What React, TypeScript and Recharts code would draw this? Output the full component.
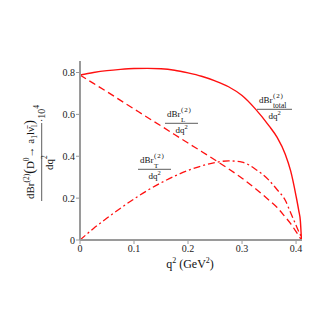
import { LineChart, Line, XAxis, YAxis } from 'recharts'

// q^2 grid (GeV^2) and the three differential branching ratios (x 10^4)
const q2 = [0, 0.025, 0.05, 0.075, 0.1, 0.125, 0.15, 0.175, 0.2, 0.225, 0.25, 0.275, 0.3, 0.325, 0.35, 0.365, 0.38, 0.39, 0.4, 0.405, 0.408, 0.41]
const brTotal = [0.788, 0.8, 0.809, 0.815, 0.819, 0.82, 0.818, 0.811, 0.798, 0.782, 0.76, 0.732, 0.69, 0.625, 0.545, 0.49, 0.41, 0.33, 0.21, 0.14, 0.09, 0]
const brL = [0.788, 0.748, 0.708, 0.667, 0.626, 0.585, 0.545, 0.504, 0.463, 0.423, 0.382, 0.34, 0.295, 0.245, 0.19, 0.155, 0.11, 0.078, 0.04, 0.02, 0.008, 0]
const brT = [0, 0.055, 0.105, 0.152, 0.196, 0.237, 0.273, 0.305, 0.332, 0.354, 0.37, 0.378, 0.372, 0.338, 0.285, 0.24, 0.19, 0.13, 0.07, 0.04, 0.025, 0]

const xTicks = [0, 0.1, 0.2, 0.3, 0.4]
const yTicks = [0, 0.2, 0.4, 0.6, 0.8]

const data = q2.map((q, i) => ({ q2: q, total: brTotal[i], L: brL[i], T: brT[i] }))

const FONT = '"Liberation Serif", "DejaVu Serif", serif'
const FRAME = '#9a9a9a'
const RED = '#ff1010'

function XTick(props: any) {
    const { x, y, payload } = props
    return (
        <text x={x} y={y + 6} textAnchor="middle" fontFamily={FONT} fontSize={10} fill="#222">
            {payload.value}
        </text>
    )
}

function YTick(props: any) {
    const { x, y, payload } = props
    return (
        <text x={x} y={y + 3.5} textAnchor="end" fontFamily={FONT} fontSize={10} fill="#222">
            {payload.value}
        </text>
    )
}

// little dBr^(2)_x / dq^2 fraction
function Frac({ x, by, w, sub }: { x: number; by: number; w: number; sub: string }) {
    return (
        <g fontFamily={FONT} fill="#111">
            <text x={x} y={by - 6.5} fontSize={9}>dBr</text>
            <text x={x + 14} y={by - 11} fontSize={7} letterSpacing={0.8}>(2)</text>
            <text x={x + 14} y={by - 1.8} fontSize={sub.length > 1 ? 7.5 : 7}>{sub}</text>
            <line x1={x - 2} x2={x - 2 + w} y1={by} y2={by} stroke="#333" strokeWidth={0.8} />
            <text x={x - 2 + w / 2} y={by + 9.5} fontSize={9} textAnchor="middle">
                dq<tspan fontSize={6.5} dy={-4}>2</tspan>
            </text>
        </g>
    )
}

function Overlay() {
    return (
        <svg width={327} height={327} style={{ position: 'absolute', left: 0, top: 0, pointerEvents: 'none' }}>
            {/* y axis title, rotated */}
            <g transform="translate(41.7,157) rotate(-90)" fontFamily={FONT} fill="#111">
                <text x={-42} y={-8} fontSize={11}>
                    dBr<tspan fontSize={7.5} dy={-5}>(2)</tspan>
                    <tspan fontSize={14} dy={5}>(</tspan>D<tspan fontSize={7.5} dy={-5}>0</tspan>
                    <tspan dy={5}>→ a</tspan><tspan fontSize={7.5} dy={3}>1</tspan>
                    <tspan dy={-3}>l</tspan><tspan>ν̄</tspan><tspan fontSize={7.5} dy={3}>l</tspan>
                    <tspan fontSize={14} dy={-3}>)</tspan>
                </text>
                <line x1={-44} x2={34} y1={0} y2={0} stroke="#333" strokeWidth={0.8} />
                <text x={35} y={3} fontSize={10}>
                    ·10<tspan fontSize={7.5} dy={-6}>4</tspan>
                </text>
                <text x={-13} y={11} fontSize={11}>
                    dq<tspan fontSize={7.5} dy={-6}>2</tspan>
                </text>
            </g>
            {/* x axis title */}
            <text x={190} y={268} fontFamily={FONT} fontSize={12} textAnchor="middle" fill="#111">
                q<tspan fontSize={8} dy={-5}>2</tspan>
                <tspan dy={5}> (GeV</tspan><tspan fontSize={8} dy={-5}>2</tspan><tspan dy={5}>)</tspan>
            </text>
            <Frac x={167} by={123.3} w={33} sub="L" />
            <Frac x={140} by={169.3} w={33} sub="T" />
            <Frac x={259} by={109.3} w={35} sub="total" />
        </svg>
    )
}

export default function App() {
    return (
        <div style={{ position: 'absolute', left: 0, top: 0, width: 327, height: 327, background: '#fff', fontFamily: FONT }}>
            <LineChart width={327} height={327} data={data} margin={{ top: 61, right: 25, left: 40, bottom: 57 }}>
                <XAxis
                    dataKey="q2"
                    type="number"
                    domain={[0, 0.411]}
                    ticks={xTicks}
                    height={30}
                    tick={<XTick />}
                    tickSize={4}
                    tickMargin={2}
                    axisLine={{ stroke: FRAME, strokeWidth: 2 }}
                    tickLine={{ stroke: FRAME }}
                    allowDataOverflow
                />
                <XAxis xAxisId="top" orientation="top" type="number" domain={[0, 0.411]} height={0} tick={false} tickLine={false} axisLine={{ stroke: FRAME, strokeWidth: 2 }} />
                <YAxis
                    type="number"
                    domain={[0, 0.855]}
                    ticks={yTicks}
                    width={40}
                    tick={<YTick />}
                    tickSize={4}
                    tickMargin={1}
                    axisLine={{ stroke: FRAME, strokeWidth: 2 }}
                    tickLine={{ stroke: FRAME }}
                    allowDataOverflow
                />
                <YAxis yAxisId="right" orientation="right" type="number" domain={[0, 0.855]} width={0} tick={false} tickLine={false} axisLine={{ stroke: FRAME, strokeWidth: 2 }} />
                <Line type="monotone" dataKey="total" stroke={RED} strokeWidth={1.4} dot={false} isAnimationActive={false} />
                <Line type="monotone" dataKey="L" stroke={RED} strokeWidth={1.3} strokeDasharray="7 4" dot={false} isAnimationActive={false} />
                <Line type="monotone" dataKey="T" stroke={RED} strokeWidth={1.3} strokeDasharray="7 3 2 3" dot={false} isAnimationActive={false} />
            </LineChart>
            <Overlay />
        </div>
    )
}
